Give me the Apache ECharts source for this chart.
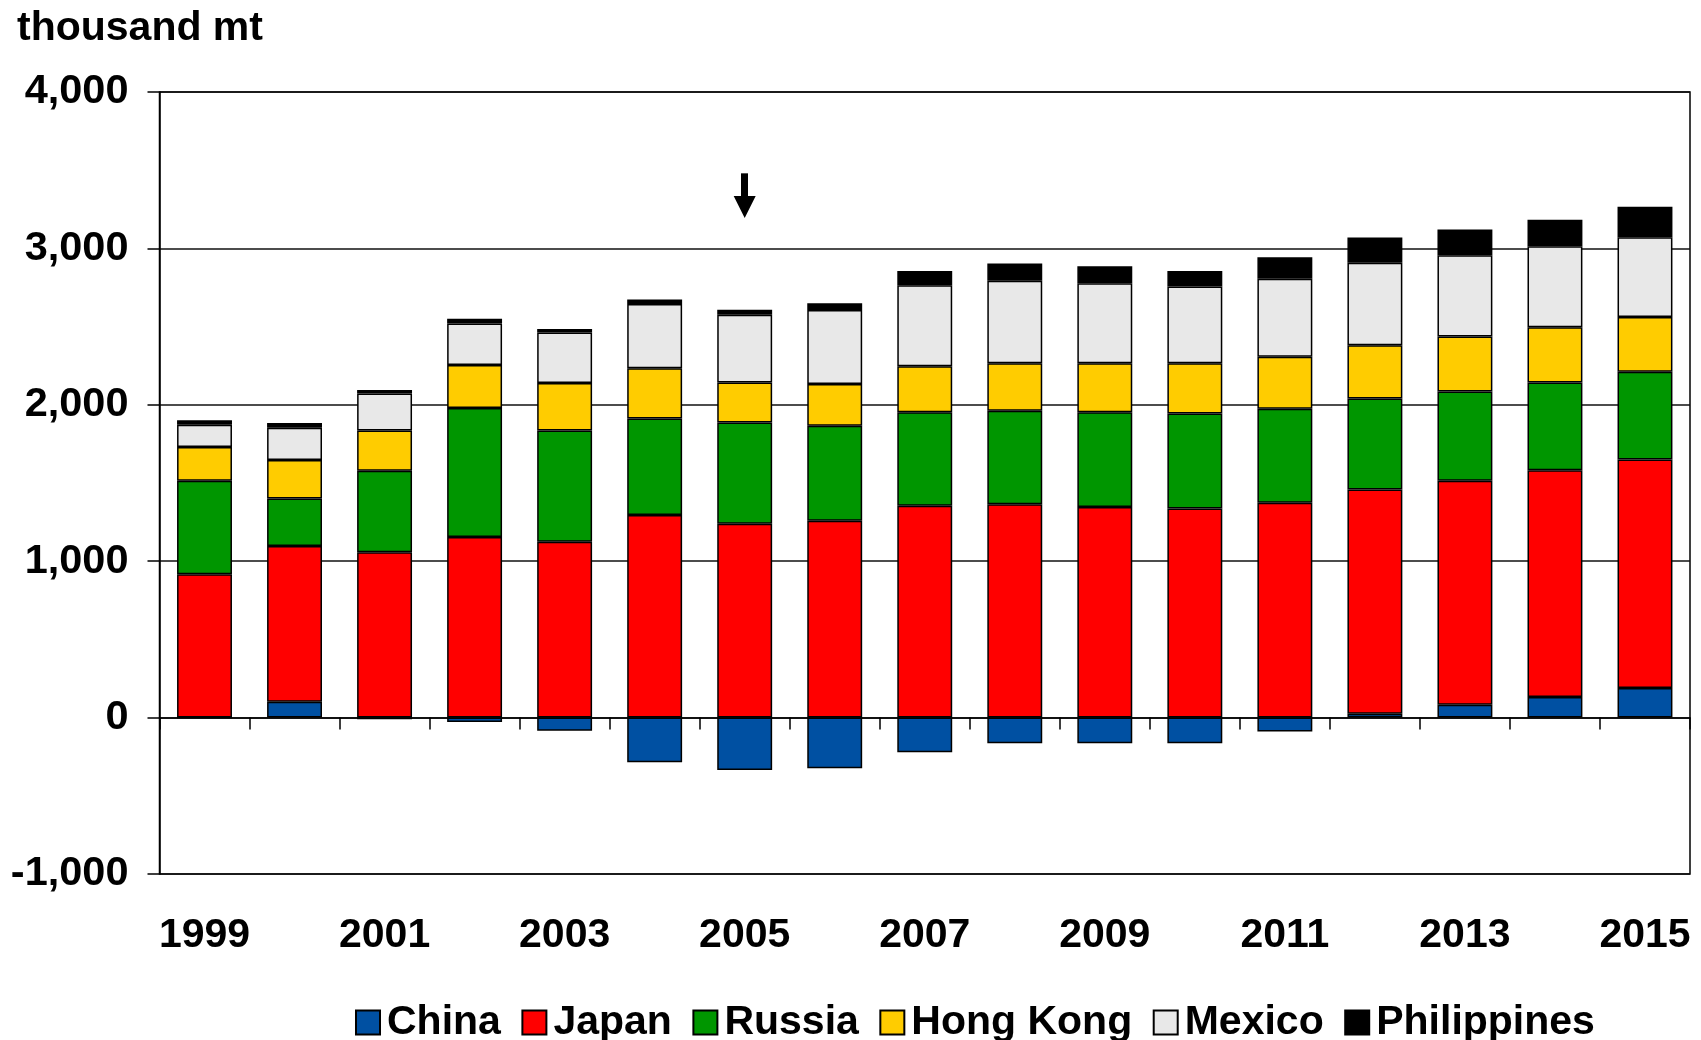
<!DOCTYPE html>
<html>
<head>
<meta charset="utf-8">
<script src="https://cdn.jsdelivr.net/npm/echarts@6/dist/echarts.min.js"></script>
<style>
    html, body { margin: 0; padding: 0; background: #fff; }
    #chart { width: 1701px; height: 1040px; }
</style>
</head>
<body>
<div id="chart"></div>
<script>
var years = ['1999', '2000', '2001', '2002', '2003', '2004', '2005', '2006', '2007',
    '2008', '2009', '2010', '2011', '2012', '2013', '2014', '2015'];
var china = [0, 102, -10, -28, -84, -285, -335, -324, -221, -164, -164, -164, -89, 25, 82, 132, 189];
var japan = [916, 995, 1058, 1154, 1124, 1296, 1239, 1259, 1355, 1364, 1346, 1337, 1373, 1433, 1433, 1449, 1461];
var russia = [599, 304, 521, 825, 712, 617, 648, 607, 598, 598, 607, 607, 601, 582, 570, 561, 561];
var hongKong = [215, 246, 257, 275, 303, 321, 255, 267, 294, 304, 313, 322, 333, 340, 352, 354, 351];
var mexico = [142, 206, 236, 266, 323, 410, 434, 473, 518, 527, 511, 490, 499, 529, 520, 518, 509];
var philippines = [30, 30, 22, 30, 22, 29, 32, 43, 91, 111, 109, 100, 137, 160, 164, 169, 195];
// arrow above 2005 (start, tip)
var arrowYear = '2005';
var arrowFrom = 3480, arrowTo = 3265;

var font = '"Liberation Sans", Arial, sans-serif';
var colors = ['#0050a2', '#ff0000', '#009600', '#ffcc00', '#e8e8e8', '#000000'];

function bar(name, data, color) {
    return {
        name: name,
        type: 'bar',
        stack: 'total',
        barCategoryGap: '39%',
        data: data,
        itemStyle: {
            color: color,
            borderColor: '#000',
            borderWidth: 1.5
        }
    };
}

var series = [
    bar('China', china, colors[0]),
    bar('Japan', japan, colors[1]),
    bar('Russia', russia, colors[2]),
    bar('Hong Kong', hongKong, colors[3]),
    bar('Mexico', mexico, colors[4]),
    bar('Philippines', philippines, colors[5])
];
series[5].markLine = {
    silent: true,
    symbol: ['none', 'triangle'],
    symbolSize: [22, 22],
    label: {show: false},
    lineStyle: {color: '#000', width: 7, type: 'solid'},
    itemStyle: {color: '#000'},
    data: [[{coord: [arrowYear, arrowFrom]}, {coord: [arrowYear, arrowTo]}]]
};

var myChart = echarts.init(document.getElementById('chart'));
var option = {
    animation: false,
    backgroundColor: '#fff',
    title: {
        text: 'thousand mt',
        left: 12,
        top: 4,
        textStyle: {fontFamily: font, fontSize: 41, fontWeight: 'bold', color: '#000', lineHeight: 40}
    },
    legend: {
        left: 350,
        top: 997,
        itemWidth: 24,
        itemHeight: 24,
        itemGap: 20.5,
        icon: 'rect',
        textStyle: {fontFamily: font, fontSize: 41, fontWeight: 'bold', color: '#000', lineHeight: 40, padding: [0, 0, 0, 2]},
        data: ['China', 'Japan', 'Russia', 'Hong Kong', 'Mexico', 'Philippines']
    },
    grid: {
        left: 159.5,
        right: 11,
        top: 92,
        bottom: 166,
        outerBoundsMode: 'none',
        containLabel: false,
        show: true,
        borderColor: '#000',
        borderWidth: 1.5
    },
    xAxis: {
        type: 'category',
        data: years,
        axisLine: {onZero: true, lineStyle: {color: '#000', width: 1.5}},
        axisTick: {show: true, interval: 0, length: 12, lineStyle: {color: '#000', width: 1.5}},
        axisLabel: {
            interval: 1,
            margin: 42,
            fontFamily: font,
            fontSize: 41,
            fontWeight: 'bold',
            color: '#000',
            lineHeight: 40
        },
        splitLine: {show: false}
    },
    yAxis: {
        type: 'value',
        min: -1000,
        max: 4000,
        interval: 1000,
        axisLine: {show: true, lineStyle: {color: '#000', width: 1.5}},
        axisTick: {show: true, length: 12, lineStyle: {color: '#000', width: 1.5}},
        axisLabel: {
            margin: 31,
            fontFamily: font,
            fontSize: 41.5,
            fontWeight: 'bold',
            color: '#000',
            formatter: function (v) {
                return v.toLocaleString('en-US');
            }
        },
        splitLine: {show: true, lineStyle: {color: '#111', width: 1.5}}
    },
    series: series
};
myChart.setOption(option);
</script>
</body>
</html>
